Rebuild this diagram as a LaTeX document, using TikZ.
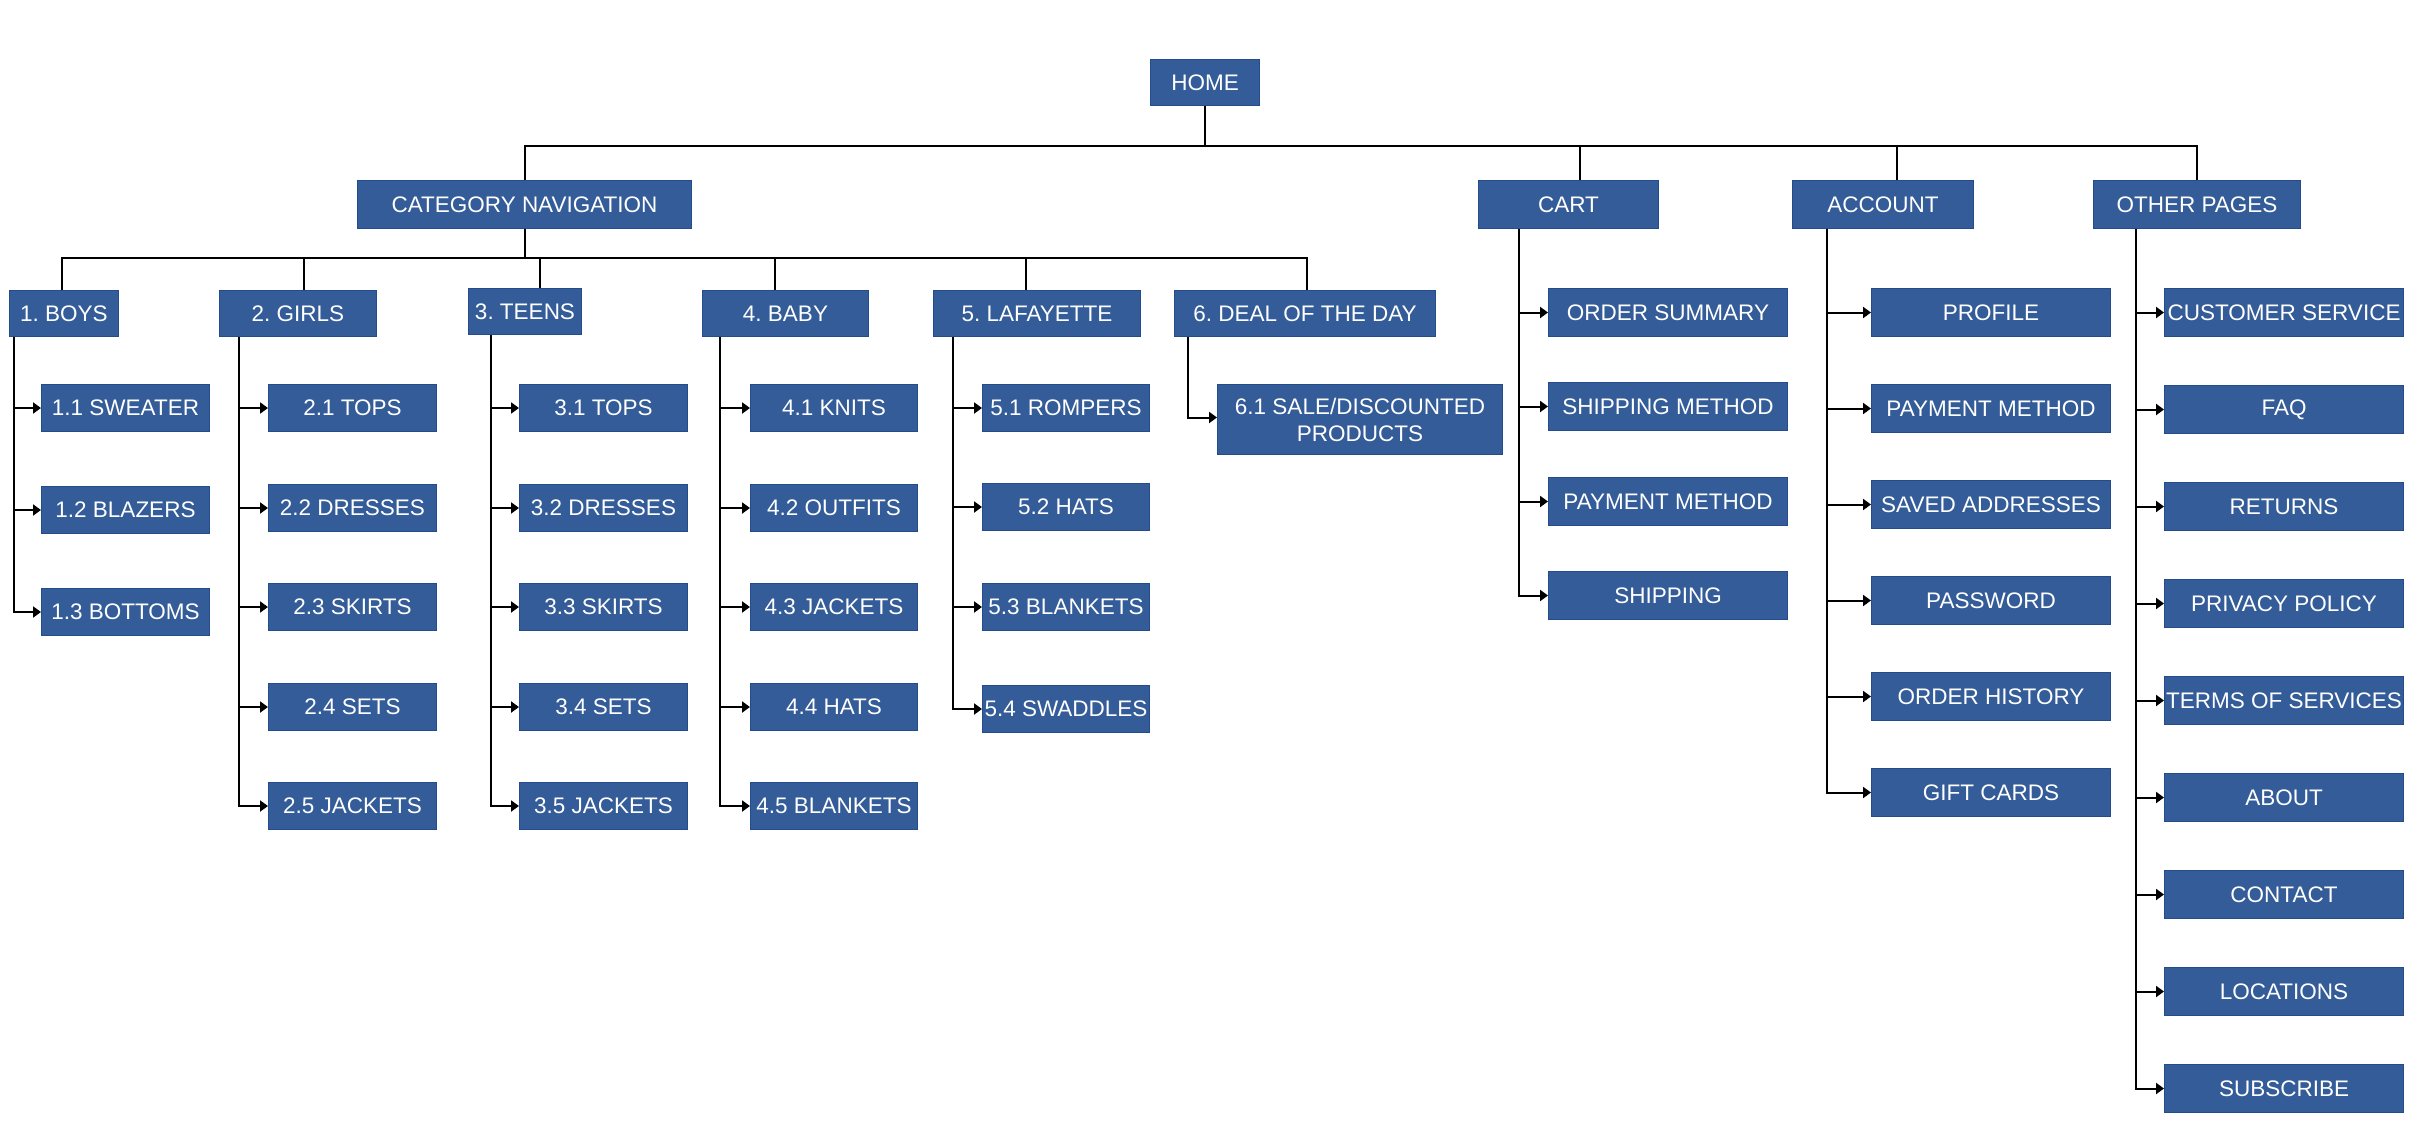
\documentclass[tikz,border=0pt]{standalone}
\usepackage{fontspec}
\setmainfont{Liberation Sans}
\usetikzlibrary{arrows.meta}
\definecolor{boxfill}{RGB}{51,92,152}
\definecolor{boxline}{RGB}{36,76,140}
\newcommand\mkbox[6]{\node[box, minimum width=#4pt, minimum height=#5pt] (#1) at (#2,#3) {#6};}
\frenchspacing
\begin{document}
\begin{tikzpicture}[x=1pt,y=-1pt,
  box/.style={draw=boxline, line width=1pt, fill=boxfill, text=white, anchor=north west,
    inner sep=0pt, font=\fontsize{22.5}{27}\selectfont\frenchspacing, align=center},
  conn/.style={line width=2pt, black},
  arr/.style={conn, -{Triangle[length=8pt,width=11pt]}}]
\useasboundingbox (0,0) rectangle (2414,1146);
% top levels
\mkbox{home}{1150}{59}{109}{46}{HOME}
\mkbox{cat}{357}{180}{334}{48}{CATEGORY NAVIGATION}
\mkbox{cart}{1478}{180}{180}{48}{CART}
\mkbox{acc}{1792}{180}{181}{48}{ACCOUNT}
\mkbox{oth}{2093}{180}{207}{48}{OTHER PAGES}
% categories
\mkbox{boys}{9}{290}{109}{46}{1. BOYS}
\mkbox{girls}{219}{290}{157}{46}{2. GIRLS}
\mkbox{teens}{468}{288}{113}{46}{3. TEENS}
\mkbox{baby}{702}{290}{166}{46}{4. BABY}
\mkbox{laf}{933}{290}{207}{46}{5. LAFAYETTE}
\mkbox{deal}{1174}{290}{261}{46}{6. DEAL OF THE DAY}
% boys
\mkbox{b1}{41}{384}{168}{47}{1.1 SWEATER}
\mkbox{b2}{41}{486}{168}{47}{1.2 BLAZERS}
\mkbox{b3}{41}{588}{168}{47}{1.3 BOTTOMS}
% girls
\mkbox{g1}{268}{384}{168}{47}{2.1 TOPS}
\mkbox{g2}{268}{484}{168}{47}{2.2 DRESSES}
\mkbox{g3}{268}{583}{168}{47}{2.3 SKIRTS}
\mkbox{g4}{268}{683}{168}{47}{2.4 SETS}
\mkbox{g5}{268}{782}{168}{47}{2.5 JACKETS}
% teens
\mkbox{t1}{519}{384}{168}{47}{3.1 TOPS}
\mkbox{t2}{519}{484}{168}{47}{3.2 DRESSES}
\mkbox{t3}{519}{583}{168}{47}{3.3 SKIRTS}
\mkbox{t4}{519}{683}{168}{47}{3.4 SETS}
\mkbox{t5}{519}{782}{168}{47}{3.5 JACKETS}
% baby
\mkbox{k1}{750}{384}{167}{47}{4.1 KNITS}
\mkbox{k2}{750}{484}{167}{47}{4.2 OUTFITS}
\mkbox{k3}{750}{583}{167}{47}{4.3 JACKETS}
\mkbox{k4}{750}{683}{167}{47}{4.4 HATS}
\mkbox{k5}{750}{782}{167}{47}{4.5 BLANKETS}
% lafayette
\mkbox{l1}{982}{384}{167}{47}{5.1 ROMPERS}
\mkbox{l2}{982}{483}{167}{47}{5.2 HATS}
\mkbox{l3}{982}{583}{167}{47}{5.3 BLANKETS}
\mkbox{l4}{982}{685}{167}{47}{5.4 SWADDLES}
% deal
\mkbox{d1}{1217}{384}{285}{70}{6.1 SALE/DISCOUNTED\\PRODUCTS}
% cart
\mkbox{c1}{1548}{288}{239}{48}{ORDER SUMMARY}
\mkbox{c2}{1548}{382}{239}{48}{SHIPPING METHOD}
\mkbox{c3}{1548}{477}{239}{48}{PAYMENT METHOD}
\mkbox{c4}{1548}{571}{239}{48}{SHIPPING}
% account
\mkbox{a1}{1871}{288}{239}{48}{PROFILE}
\mkbox{a2}{1871}{384}{239}{48}{PAYMENT METHOD}
\mkbox{a3}{1871}{480}{239}{48}{SAVED ADDRESSES}
\mkbox{a4}{1871}{576}{239}{48}{PASSWORD}
\mkbox{a5}{1871}{672}{239}{48}{ORDER HISTORY}
\mkbox{a6}{1871}{768}{239}{48}{GIFT CARDS}
% other pages
\mkbox{o1}{2164}{288}{239}{48}{CUSTOMER SERVICE}
\mkbox{o2}{2164}{385}{239}{48}{FAQ}
\mkbox{o3}{2164}{482}{239}{48}{RETURNS}
\mkbox{o4}{2164}{579}{239}{48}{PRIVACY POLICY}
\mkbox{o5}{2164}{676}{239}{48}{TERMS OF SERVICES}
\mkbox{o6}{2164}{773}{239}{48}{ABOUT}
\mkbox{o7}{2164}{870}{239}{48}{CONTACT}
\mkbox{o8}{2164}{967}{239}{48}{LOCATIONS}
\mkbox{o9}{2164}{1064}{239}{48}{SUBSCRIBE}
% buses
\coordinate (hbus) at (0,146);
\coordinate (cbus) at (0,258);
\draw[conn] (home.south) -- (home.south |- hbus);
\draw[conn] (cat.north) |- (hbus -| oth.north) -- (oth.north);
\draw[conn] ([xshift=11pt]cart.north) -- ([xshift=11pt]cart.north |- hbus);
\draw[conn] ([xshift=13.5pt]acc.north) -- ([xshift=13.5pt]acc.north |- hbus);
\draw[conn] (cat.south) -- (cat.south |- cbus);
\draw[conn] ([xshift=-2.5pt]boys.north) |- ([xshift=1.5pt]deal.north |- cbus) -- ([xshift=1.5pt]deal.north);
\draw[conn] ([xshift=5.5pt]girls.north) -- ([xshift=5.5pt]girls.north |- cbus);
\draw[conn] ([xshift=14.5pt]teens.north) -- ([xshift=14.5pt]teens.north |- cbus);
\draw[conn] ([xshift=-11pt]baby.north) -- ([xshift=-11pt]baby.north |- cbus);
\draw[conn] ([xshift=-11.5pt]laf.north) -- ([xshift=-11.5pt]laf.north |- cbus);
% branches
\foreach \c in {b1,b2,b3} \draw[arr] ([xshift=5pt]boys.south west) |- (\c.west);
\foreach \c in {g1,g2,g3,g4,g5} \draw[arr] ([xshift=20pt]girls.south west) |- (\c.west);
\foreach \c in {t1,t2,t3,t4,t5} \draw[arr] ([xshift=23pt]teens.south west) |- (\c.west);
\foreach \c in {k1,k2,k3,k4,k5} \draw[arr] ([xshift=18pt]baby.south west) |- (\c.west);
\foreach \c in {l1,l2,l3,l4} \draw[arr] ([xshift=20pt]laf.south west) |- (\c.west);
\draw[arr] ([xshift=14pt]deal.south west) |- ([yshift=2pt]d1.west);
\foreach \c in {c1,c2,c3,c4} \draw[arr] ([xshift=41pt]cart.south west) |- (\c.west);
\foreach \c in {a1,a2,a3,a4,a5,a6} \draw[arr] ([xshift=35pt]acc.south west) |- (\c.west);
\foreach \c in {o1,o2,o3,o4,o5,o6,o7,o8,o9} \draw[arr] ([xshift=43pt]oth.south west) |- (\c.west);
\end{tikzpicture}
\end{document}
